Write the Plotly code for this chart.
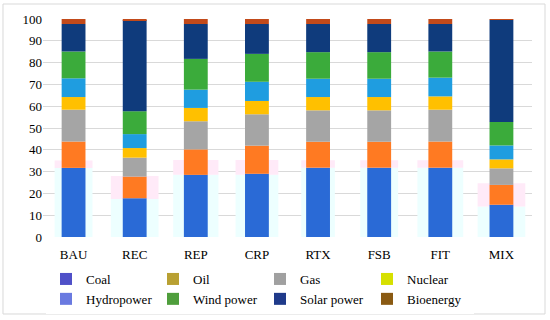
import numpy as np
import plotly.graph_objects as go

categories = ["BAU", "REC", "REP", "CRP", "RTX", "FSB", "FIT", "MIX"]
coal = [31.7, 17.8, 28.5, 29.0, 31.8, 31.8, 31.8, 14.8]
oil = [12.1, 9.9, 11.7, 12.9, 11.9, 11.9, 12.0, 9.1]
gas = [14.6, 8.7, 12.9, 14.4, 14.4, 14.4, 14.6, 7.6]
nuclear = [5.8, 4.4, 6.1, 6.1, 6.1, 6.1, 6.1, 4.1]
hydropower = [8.6, 6.4, 8.4, 8.8, 8.4, 8.4, 8.6, 6.4]
wind_power = [12.3, 10.5, 14.1, 12.8, 12.2, 12.2, 12.0, 10.8]
solar_power = [12.6, 41.8, 16.0, 13.7, 12.9, 12.9, 12.6, 46.9]
bioenergy = [2.3, 0.5, 2.3, 2.3, 2.3, 2.3, 2.3, 0.3]

# faint ghost bars visible behind the main bars
ghost_low = [31.7, 17.4, 28.5, 28.5, 31.8, 31.8, 31.8, 14.0]
ghost_high = [3.4, 10.6, 6.8, 6.8, 3.4, 3.4, 3.4, 10.7]

series_names = ["Coal", "Oil", "Gas", "Nuclear", "Hydropower", "Wind power", "Solar power", "Bioenergy"]
series_values = [coal, oil, gas, nuclear, hydropower, wind_power, solar_power, bioenergy]
bar_colors = ["#2a6ad6", "#ff7a22", "#a5a5a5", "#ffc000", "#1f9de0", "#3bab3b", "#0f3b7c", "#c24a1a"]
legend_colors = ["#4f50c8", "#b8a032", "#a0a0a0", "#d6e000", "#6a7ae0", "#4f9e3c", "#1f3a8a", "#8a5a12"]

serif = "Liberation Serif"
fig = go.Figure()

ghost_w = [0.62, 0.78, 0.74, 0.7, 0.55, 0.62, 0.75, 0.78]
# ghost bars
fig.add_trace(go.Bar(x=categories, y=ghost_low, base=[0] * len(categories), width=ghost_w,
                     marker=dict(color="#edffff", line=dict(width=0)), showlegend=False, hoverinfo="skip"))
fig.add_trace(go.Bar(x=categories, y=ghost_high, base=ghost_low, width=ghost_w,
                     marker=dict(color="#ffeaf8", line=dict(width=0)), showlegend=False, hoverinfo="skip"))

arr = np.array(series_values, dtype=float)
bases = np.vstack([np.zeros(arr.shape[1]), np.cumsum(arr, axis=0)[:-1]])
for name, vals, base, col in zip(series_names, series_values, bases, bar_colors):
    fig.add_trace(go.Bar(x=categories, y=vals, base=list(base), width=0.39, name=name,
                         marker=dict(color=col, line=dict(width=0)), showlegend=False))

# legend entries
for name, col in zip(series_names, legend_colors):
    fig.add_trace(go.Bar(x=[categories[0]], y=[None], name=name,
                         marker=dict(color=col, line=dict(width=0)), showlegend=True))

fig.update_layout(
    width=550, height=320,
    barmode="overlay",
    paper_bgcolor="white", plot_bgcolor="white",
    margin=dict(l=43, r=18, t=19, b=83, autoexpand=False),
    font=dict(family=serif, size=13, color="#000000"),
    xaxis=dict(showgrid=False, showline=False, ticks="", tickfont=dict(family=serif, size=13),
               ticklabelstandoff=8, automargin=False),
    yaxis=dict(range=[0, 100], dtick=10, showgrid=True, gridcolor="#d9d9d9", gridwidth=1,
               zeroline=False, showline=False, ticks="", tickfont=dict(family=serif, size=13),
               automargin=False),
    legend=dict(orientation="h", xref="container", yref="container", x=46 / 550, y=1 - 264 / 320,
                xanchor="left", yanchor="top", entrywidth=62, entrywidthmode="pixels",
                font=dict(family=serif, size=13), traceorder="normal", itemclick=False),
    shapes=[dict(type="rect", xref="paper", yref="paper", x0=-0.0818, x1=1.0266, y0=-0.3532, y1=1.0688,
                 line=dict(color="#d9d9d9", width=1), fillcolor="rgba(0,0,0,0)", layer="below")],
)

fig.write_html("out.html", config={"displayModeBar": False},
               post_script="document.body.style.margin='0px';document.body.style.overflow='hidden';")
